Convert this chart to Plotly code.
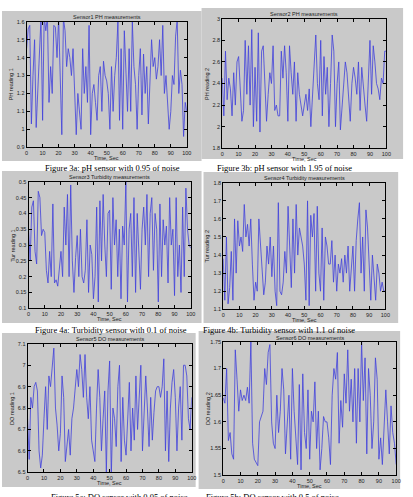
import plotly.graph_objects as go

W, H = 413, 497

time_sec = list(range(0, 101))

ph1 = [1.45, 1.56, 1.58, 1.03, 1.30, 1.50, 1.01, 1.25, 1.40, 1.62, 1.05, 1.63, 1.55, 1.63, 1.15, 1.35, 1.20, 1.58, 1.57, 1.40,
       1.62, 1.30, 0.97, 1.62, 1.55, 1.35, 1.45, 1.40, 1.30, 1.45, 1.15, 0.97, 1.20, 1.10, 1.00, 1.45, 1.20, 1.35, 1.15, 1.58,
       0.97, 1.20, 1.25, 1.15, 1.05, 1.30, 1.35, 1.10, 1.38, 1.30, 1.27, 1.20, 1.00, 1.35, 1.10, 1.30, 1.40, 1.60, 1.05, 1.45,
       1.00, 1.55, 1.30, 1.10, 1.45, 1.10, 1.60, 1.35, 1.25, 1.00, 1.30, 1.45, 1.08, 1.42, 1.20, 1.35, 1.03, 1.25, 1.50, 1.35,
       1.40, 1.28, 1.35, 1.50, 1.30, 1.58, 1.20, 1.30, 1.15, 1.00, 1.10, 1.30, 1.25, 1.52, 1.61, 1.20, 1.33, 1.25, 0.96, 1.15, 1.10]

ph2 = [2.45, 2.10, 2.70, 2.25, 2.45, 2.35, 2.10, 2.50, 2.20, 2.60, 2.65, 2.40, 2.05, 2.15, 2.80, 2.30, 2.75, 2.20, 2.90, 2.00,
       2.55, 2.05, 2.87, 1.95, 2.70, 2.75, 2.40, 2.05, 2.30, 2.50, 2.40, 2.75, 2.15, 2.20, 2.10, 2.10, 2.70, 2.45, 2.75, 2.50,
       2.05, 2.75, 2.50, 2.30, 2.60, 2.05, 2.50, 2.30, 2.20, 2.10, 2.20, 2.30, 2.15, 2.35, 2.00, 2.30, 2.60, 2.85, 2.40, 2.25,
       2.80, 2.10, 2.65, 2.30, 2.55, 2.00, 2.40, 2.85, 2.70, 2.00, 2.40, 2.60, 1.97, 2.20, 2.35, 2.60, 2.50, 2.30, 2.05, 2.40,
       2.55, 2.45, 2.30, 2.60, 2.15, 2.55, 2.35, 2.20, 2.05, 2.40, 2.80, 2.30, 2.75, 2.60, 2.40, 2.35, 2.25, 2.45, 2.40, 2.70, 2.70]

tur1 = [0.35, 0.25, 0.42, 0.44, 0.28, 0.24, 0.47, 0.45, 0.33, 0.35, 0.34, 0.22, 0.18, 0.28, 0.20, 0.43, 0.18, 0.19, 0.17, 0.22,
        0.28, 0.20, 0.42, 0.30, 0.46, 0.20, 0.49, 0.25, 0.15, 0.26, 0.33, 0.20, 0.35, 0.20, 0.18, 0.22, 0.38, 0.15, 0.30, 0.27,
        0.13, 0.20, 0.42, 0.12, 0.44, 0.25, 0.46, 0.30, 0.20, 0.40, 0.41, 0.16, 0.45, 0.30, 0.38, 0.20, 0.35, 0.13, 0.36, 0.30,
        0.50, 0.12, 0.35, 0.40, 0.20, 0.45, 0.15, 0.40, 0.28, 0.16, 0.35, 0.42, 0.30, 0.46, 0.20, 0.40, 0.45, 0.22, 0.40, 0.35,
        0.12, 0.43, 0.20, 0.38, 0.30, 0.36, 0.18, 0.45, 0.30, 0.35, 0.14, 0.45, 0.20, 0.30, 0.15, 0.42, 0.20, 0.48, 0.35, 0.30, 0.29]

tur2 = [1.38, 1.15, 1.50, 1.13, 1.22, 1.42, 1.15, 1.60, 1.30, 1.59, 1.45, 1.50, 1.42, 1.68, 1.50, 1.57, 1.45, 1.60, 1.35, 1.15,
        1.25, 1.20, 1.60, 1.45, 1.35, 1.18, 1.25, 1.45, 1.35, 1.50, 1.28, 1.45, 1.20, 1.12, 1.69, 1.20, 1.18, 1.25, 1.42, 1.30,
        1.67, 1.45, 1.22, 1.60, 1.30, 1.68, 1.40, 1.55, 1.50, 1.45, 1.35, 1.15, 1.70, 1.12, 1.62, 1.50, 1.63, 1.20, 1.67, 1.30,
        1.20, 1.55, 1.15, 1.50, 1.45, 1.35, 1.35, 1.48, 1.25, 1.40, 1.20, 1.35, 1.30, 1.38, 1.25, 1.40, 1.30, 1.45, 1.20, 1.35,
        1.45, 1.20, 1.48, 1.60, 1.69, 1.30, 1.50, 1.20, 1.65, 1.55, 1.30, 1.15, 1.40, 1.25, 1.15, 1.35, 1.30, 1.20, 1.25, 1.20, 1.20]

do1 = [6.75, 6.56, 6.85, 6.80, 6.90, 6.92, 6.88, 6.60, 6.52, 6.58, 6.75, 6.90, 6.70, 6.95, 6.90, 6.98, 7.08, 6.80, 6.72, 6.60,
       6.68, 6.95, 6.85, 6.55, 6.62, 6.70, 6.58, 6.75, 6.80, 6.90, 6.98, 6.90, 7.05, 6.98, 6.85, 7.05, 6.85, 6.75, 6.90, 6.65,
       6.60, 6.55, 6.80, 6.98, 6.85, 6.60, 6.75, 6.88, 6.50, 6.88, 7.02, 6.48, 6.80, 6.75, 6.62, 6.90, 7.00, 6.55, 6.85, 6.65,
       6.58, 6.75, 6.92, 6.60, 6.80, 6.65, 6.95, 6.70, 6.85, 7.00, 6.60, 6.78, 6.95, 6.80, 6.62, 6.85, 6.65, 6.78, 6.88, 6.90,
       6.90, 6.85, 6.90, 7.03, 6.60, 6.88, 6.55, 6.80, 6.92, 6.98, 6.85, 6.60, 6.80, 6.90, 6.65, 7.00, 7.00, 6.95, 6.75, 6.70, 6.85]

do2 = [1.645, 1.635, 1.700, 1.565, 1.580, 1.540, 1.530, 1.735, 1.680, 1.620, 1.660, 1.640, 1.650, 1.640, 1.665, 1.635, 1.750,
       1.560, 1.530, 1.525, 1.518, 1.600, 1.610, 1.620, 1.700, 1.670, 1.730, 1.745, 1.600, 1.560, 1.550, 1.650, 1.580, 1.620,
       1.700, 1.660, 1.540, 1.600, 1.650, 1.530, 1.700, 1.620, 1.560, 1.520, 1.670, 1.510, 1.690, 1.580, 1.550, 1.660, 1.530,
       1.620, 1.600, 1.675, 1.550, 1.620, 1.510, 1.550, 1.610, 1.600, 1.600, 1.570, 1.520, 1.650, 1.700, 1.680, 1.730, 1.560,
       1.640, 1.590, 1.690, 1.635, 1.735, 1.620, 1.680, 1.600, 1.700, 1.560, 1.700, 1.600, 1.750, 1.640, 1.720, 1.540, 1.700,
       1.650, 1.550, 1.600, 1.720, 1.680, 1.530, 1.570, 1.520, 1.600, 1.660, 1.600, 1.540, 1.630, 1.580, 1.560, 1.520]

series = [ph1, ph2, tur1, tur2, do1, do2]
titles = ["Sensor1 PH measurements", "Sensor2 PH measurements",
          "Sensor3 Turbidity measurements", "Sensor4 Turbidity measurements",
          "Sensor5 DO measurements", "Sensor6 DO measurements"]
ylabels = ["PH reading 1", "PH reading 2", "Tur reading 1", "Tur reading 2",
           "DO reading 1", "DO reading 2"]
yranges = [(0.9, 1.6), (1.8, 3.0), (0.1, 0.5), (1.1, 1.8), (6.5, 7.1), (1.5, 1.75)]
ydticks = [0.1, 0.2, 0.05, 0.1, 0.1, 0.05]
captions = ["Figure 3a: pH sensor with 0.95 of noise", "Figure 3b: pH sensor with 1.95 of noise",
            "Figure 4a: Turbidity sensor with 0.1 of noise", "Figure 4b: Turbidity sensor with 1.1 of noise",
            "Figure 5a: DO sensor with 0.05 of noise", "Figure 5b: DO sensor with 0.5 of noise"]
xlabel = "Time, Sec"

# pixel layout: axes box (x0, x1, y0, y1), gray panel box, caption center (x, y),
# x-label center y, title center y
axes_px = [(25, 188, 19, 146), (224, 391, 16, 147), (27, 192, 181, 309),
           (225, 390, 182, 310), (26, 193, 345, 475), (225, 401, 343, 478)]
panel_px = [(0, 203, 8, 160), (203, 408, 5, 158), (0, 203, 170, 324),
            (205, 403, 171, 324), (0, 197, 334, 490), (200, 405, 332, 492)]
caption_px = [(112, 167), (287, 167), (111, 330.5), (282, 330.5), (120, 500), (275, 500)]
xlabel_y = [156.5, 157.5, 319.5, 320.5, 485.5, 489]
title_y = [14.5, 11.5, 176.5, 177.5, 340, 339]


def px(x):
    return x / W


def py(y):
    return 1 - y / H


fig = go.Figure()
layout = dict(width=W, height=H, margin=dict(l=0, r=0, t=0, b=0),
              paper_bgcolor="white", plot_bgcolor="white", showlegend=False,
              shapes=[], annotations=[])

small = dict(family="Liberation Sans, Arial", size=5.5, color="#222")
for i in range(6):
    n = i + 1
    xa = "x" if n == 1 else f"x{n}"
    ya = "y" if n == 1 else f"y{n}"
    x0, x1, y0, y1 = axes_px[i]
    fig.add_trace(go.Scatter(x=time_sec, y=series[i], mode="lines",
                             line=dict(color="#4040dc", width=0.8),
                             xaxis=xa, yaxis=ya, hoverinfo="skip"))
    common = dict(showline=True, linecolor="black", linewidth=1, mirror="ticks",
                  ticks="inside", ticklen=3, tickcolor="black", showgrid=False,
                  zeroline=False, tickfont=small)
    layout["xaxis" if n == 1 else f"xaxis{n}"] = dict(
        domain=[px(x0), px(x1)], range=[0, 100], dtick=10, tick0=0,
        anchor=ya, ticklabelstandoff=0, **common)
    ymin, ymax = yranges[i]
    layout["yaxis" if n == 1 else f"yaxis{n}"] = dict(
        domain=[py(y1), py(y0)], range=[ymin, ymax], dtick=ydticks[i], tick0=ymin,
        anchor=xa, **common)
    gx0, gx1, gy0, gy1 = panel_px[i]
    layout["shapes"].append(dict(type="rect", xref="paper", yref="paper",
                                 x0=px(gx0), x1=px(gx1), y0=py(gy1), y1=py(gy0),
                                 fillcolor="#c9c9c9", line=dict(width=0), layer="below"))
    cx = (x0 + x1) / 2
    layout["annotations"].append(dict(text=titles[i], x=px(cx), y=py(title_y[i]),
                                      xref="paper", yref="paper", showarrow=False,
                                      yanchor="middle", xanchor="center", font=small))
    layout["annotations"].append(dict(text=xlabel, x=px(cx), y=py(xlabel_y[i]),
                                      xref="paper", yref="paper", showarrow=False,
                                      yanchor="middle", xanchor="center", font=small))
    layout["annotations"].append(dict(text=ylabels[i], x=px(x0 - 16), y=py((y0 + y1) / 2),
                                      xref="paper", yref="paper", showarrow=False,
                                      textangle=-90, xanchor="center", yanchor="middle",
                                      font=small))
    capx, capy = caption_px[i]
    layout["annotations"].append(dict(text=captions[i], x=px(capx), y=py(capy),
                                      xref="paper", yref="paper", showarrow=False,
                                      xanchor="center", yanchor="middle",
                                      font=dict(family="Liberation Serif, Times New Roman",
                                                size=8.5, color="black")))

fig.update_layout(**layout)
fig.write_html("out.html")
